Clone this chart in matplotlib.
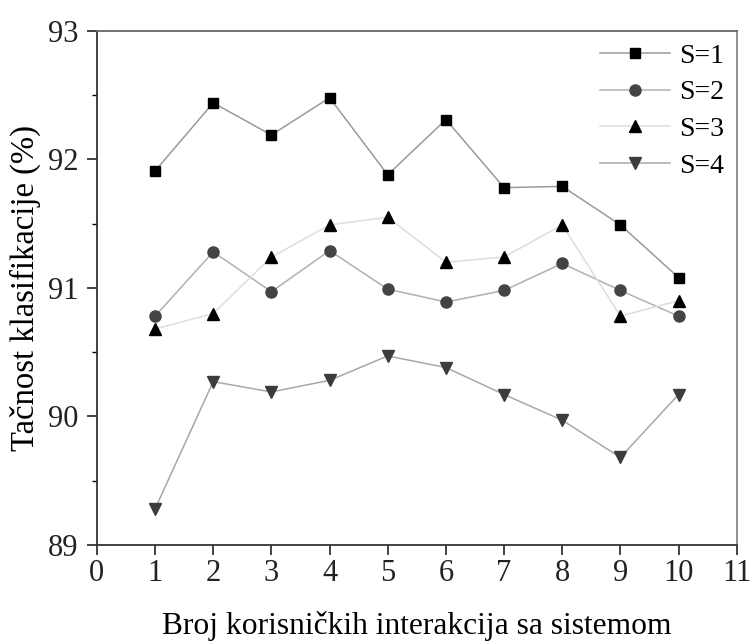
import matplotlib
matplotlib.use("Agg")
from matplotlib import pyplot as plt

x_vals = [1, 2, 3, 4, 5, 6, 7, 8, 9, 10]
s1 = [91.91, 92.44, 92.19, 92.48, 91.88, 92.31, 91.78, 91.79, 91.49, 91.08]
s2 = [90.78, 91.28, 90.97, 91.29, 90.99, 90.89, 90.98, 91.19, 90.98, 90.78]
s3 = [90.68, 90.80, 91.24, 91.49, 91.55, 91.20, 91.24, 91.49, 90.78, 90.90]
s4 = [89.28, 90.27, 90.19, 90.28, 90.47, 90.38, 90.17, 89.97, 89.68, 90.17]
labels = ["S=1", "S=2", "S=3", "S=4"]

plt.rcParams['font.family'] = ['Liberation Serif', 'DejaVu Serif']

fig = plt.figure(figsize=(7.51, 6.44), dpi=100)
ax = fig.add_axes([0.129, 0.154, 0.852, 0.798])

# line colour, marker, marker colour for each series
styles = [("#9a9a9a", "s", "black", 7),
          ("#b0b0b0", "o", "#444444", 8),
          ("#dddddd", "^", "black", 8.5),
          ("#a8a8a8", "v", "#3c3c3c", 8.5)]
for ys, lab, (lc, mk, mc, ms) in zip([s1, s2, s3, s4], labels, styles):
    ax.plot(x_vals, ys, color=lc, lw=1.1, marker=mk, markersize=ms,
            markerfacecolor=mc, markeredgecolor=mc, label=lab)

ax.set_xlim(0, 11)
ax.set_ylim(89, 93)
ax.set_xticks(range(0, 12))
ax.set_yticks([89, 90, 91, 92, 93])
ax.set_yticks([89.5, 90.5, 91.5, 92.5], minor=True)
ax.tick_params(axis='both', which='major', labelsize=22, length=7,
               width=1.2, direction='out', colors='#222222')
ax.tick_params(axis='y', which='major', pad=6)
ax.tick_params(axis='y', which='minor', length=3.5, width=1.0)
for sp in ax.spines.values():
    sp.set_linewidth(1.3)
    sp.set_color('#333333')
ax.spines['top'].set_color('#666666')
ax.spines['right'].set_color('#888888')

ax.set_xlabel("Broj korisničkih interakcija sa sistemom", fontsize=22.7, labelpad=16)
ax.set_ylabel("Tačnost klasifikacije (%)", fontsize=23.5, labelpad=5)

ax.legend(loc='upper right', frameon=False, fontsize=20, handlelength=2.5,
          handletextpad=0.35, labelspacing=0.4, borderaxespad=0.05)

fig.savefig("out.png", dpi=100)
